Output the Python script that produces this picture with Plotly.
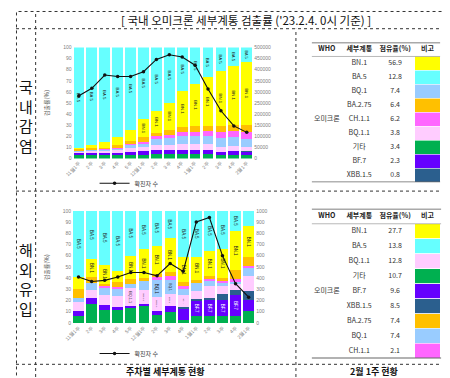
import plotly.graph_objects as go

# ---------------- data ----------------
weeks = ["11월1주", "2주", "3주", "4주", "5주", "12월1주", "2주", "3주", "4주",
         "1월1주", "2주", "3주", "4주", "2월1주"]

series_names = ["기타", "BF.7", "XBB.1.5", "BQ.1.1", "BQ.1", "CH.1.1", "BA.2.75", "BN.1", "BA.5"]
series_colors = {
    "기타": "#00B050", "BF.7": "#6600FF", "XBB.1.5": "#2B5F8E", "BQ.1.1": "#FFCCFF",
    "BQ.1": "#99CCFF", "CH.1.1": "#FF66FF", "BA.2.75": "#FFC000", "BN.1": "#FFFF00",
    "BA.5": "#66FFFF",
}

# domestic (국내감염) detection rate, %
dom_etc   = [3, 3, 3.5, 3, 3.5, 3.5, 4, 4, 4, 4, 4, 3.5, 3.5, 3.4]
dom_bf7   = [2, 2, 1.5, 2, 2.5, 3, 3.5, 3.5, 4, 4, 4, 2.5, 3, 2.3]
dom_xbb   = [0, 0, 0, 0, 0, 0, 0, 0, 0, 0, 0.2, 0.3, 0.5, 0.8]
dom_bq11  = [1, 1.5, 2, 2.5, 4, 4, 4.5, 4.5, 5, 5, 5, 4.5, 4, 3.8]
dom_bq1   = [0.5, 1, 1, 1.5, 2, 3, 5.5, 6.5, 7, 7, 7.5, 8, 8.5, 7.4]
dom_ch11  = [0.5, 0.5, 0.5, 1, 1, 1.5, 2.5, 3, 3.5, 4, 4, 5, 5.5, 6.2]
dom_ba275 = [1.5, 2, 1.5, 2, 3, 4, 3, 4.5, 5, 5.5, 4.5, 5.5, 5.5, 6.4]
dom_bn1   = [1.5, 2, 5, 7.5, 10, 16.5, 20, 24, 32.5, 37.5, 44, 49.7, 53, 56.9]
dom_ba5   = [90, 88, 85, 80.5, 74, 64.5, 57, 50, 39, 33, 26.8, 21, 16.5, 12.8]
dom_cases = [283000, 316000, 376000, 369000, 369000, 391000, 446000, 467000,
             457000, 420000, 313000, 215000, 147000, 118000]

# imported (해외유입) detection rate, %
imp_etc   = [6.5, 17, 12, 11.5, 13, 16, 7, 10, 3, 6, 6, 6, 6, 10.7]
imp_bf7   = [4.5, 5, 4, 2.5, 2, 1, 4, 5, 10, 14.5, 14.5, 14.5, 19, 9.6]
imp_xbb   = [0, 0, 0, 0, 0, 0, 0, 0, 1.5, 0.5, 2, 5, 4.5, 8.5]
imp_bq11  = [8, 7, 9, 10, 16, 12, 12, 11, 10, 7.5, 10.5, 7.5, 5, 12.8]
imp_bq1   = [3, 7, 6, 6.7, 4, 8, 15, 12, 6, 7, 4, 3, 2, 7.4]
imp_ch11  = [0, 0, 2, 1.3, 0, 0, 3, 3.5, 2.5, 0, 2.5, 1, 3, 2.1]
imp_ba275 = [8, 5, 2, 4.5, 4.5, 3, 3, 3.5, 3.5, 3, 2, 3, 7.5, 7.4]
imp_bn1   = [11, 16, 17, 9.5, 20.5, 26, 25, 31, 22, 20.5, 22.5, 26, 35, 27.7]
imp_ba5   = [59, 43, 48, 54, 40, 34, 31, 24, 41.5, 41, 36, 34, 18, 13.8]
imp_cases = [410, 370, 380, 410, 450, 450, 420, 530, 460, 900, 940, 600, 350, 230]

# in-bar labels
dom_ba5_txt = ["BA.5"] * 14
dom_bn1_txt = ["", "", "", "", "", "BN.1", "BN.1", "BN.1", "BN.1", "BN.1", "BN.1", "BN.1", "BN.1", "BN.1"]
imp_ba5_txt = ["BA.5"] * 13 + [""]
imp_bn1_txt = ["", "BN.1", "BN.1", "", "BN.1", "BN.1", "BN.1", "BN.1", "BN.1", "BN.1", "BN.1", "BN.1", "BN.1", "BN.1"]
imp_bq11_txt = ["", "", "", "", "BQ.1.1", "BQ.1.1", "BQ.1.1", "BQ.1.1", "BQ.1.1", "", "", "", "", ""]
imp_bq1_txt = ["", "", "", "", "", "", "BQ.1", "BQ.1", "", "", "", "", "", ""]
imp_bf7_txt = ["", "", "", "", "", "", "", "", "", "BF.7", "BF.7", "BF.7", "BF.7", ""]

# tables
t_header = ["WHO", "세부계통", "점유율(%)", "비고"]
t1_names = ["BN.1", "BA.5", "BQ.1", "BA.2.75", "CH.1.1", "BQ.1.1", "기타", "BF.7", "XBB.1.5"]
t1_vals  = ["56.9", "12.8", "7.4", "6.4", "6.2", "3.8", "3.4", "2.3", "0.8"]
t2_names = ["BN.1", "BA.5", "BQ.1.1", "기타", "BF.7", "XBB.1.5", "BA.2.75", "BQ.1", "CH.1.1"]
t2_vals  = ["27.7", "13.8", "12.8", "10.7", "9.6", "8.5", "7.4", "7.4", "2.1"]
who_label = "오미크론"

# ---------------- figure ----------------
W, H = 450, 378
FONT = "Noto Sans CJK KR"
NARROW = "Liberation Sans Narrow, Noto Sans CJK KR"
GREY = "#808080"

def px_x(v):
    return v / W

def px_y(v):
    return 1 - v / H

fig = go.Figure()
idx = list(range(len(weeks)))

dom = dict(zip(series_names, [dom_etc, dom_bf7, dom_xbb, dom_bq11, dom_bq1, dom_ch11, dom_ba275, dom_bn1, dom_ba5]))
imp = dict(zip(series_names, [imp_etc, imp_bf7, imp_xbb, imp_bq11, imp_bq1, imp_ch11, imp_ba275, imp_bn1, imp_ba5]))
dom_txt = {"BA.5": dom_ba5_txt, "BN.1": dom_bn1_txt}
imp_txt = {"BA.5": imp_ba5_txt, "BN.1": imp_bn1_txt, "BQ.1.1": imp_bq11_txt, "BQ.1": imp_bq1_txt, "BF.7": imp_bf7_txt}

for data, txt, xa, ya in [(dom, dom_txt, "x", "y"), (imp, imp_txt, "x2", "y3")]:
    for name in series_names:
        fig.add_trace(go.Bar(
            x=idx, y=data[name], name=name, xaxis=xa, yaxis=ya,
            marker=dict(color=series_colors[name], line=dict(width=0)),
            text=txt.get(name), textposition="inside", insidetextanchor="middle",
            textangle=90,
            textfont=dict(size=5.5, family="Liberation Sans, Arial",
                          color="white" if name == "BF.7" else "#222"),
            showlegend=False, hoverinfo="skip",
        ))

fig.add_trace(go.Scatter(
    x=idx, y=dom_cases, xaxis="x", yaxis="y2", mode="lines+markers", name="확진자 수",
    line=dict(color="#111", width=1.1), marker=dict(symbol="circle", size=3.5, color="#111"),
    legend="legend", cliponaxis=False,
))
fig.add_trace(go.Scatter(
    x=idx, y=imp_cases, xaxis="x2", yaxis="y4", mode="lines+markers", name="확진자 수",
    line=dict(color="#111", width=1.1), marker=dict(symbol="circle", size=3.5, color="#111"),
    legend="legend2", cliponaxis=False,
))

# tables
tcols = [15.5, 48.5, 85, 118]
for names, vals, xa, ya in [(t1_names, t1_vals, "x3", "y5"), (t2_names, t2_vals, "x4", "y6")]:
    rows = list(range(len(names)))
    fig.add_trace(go.Bar(
        y=rows, x=[26] * len(rows), base=[105] * len(rows), orientation="h", width=1,
        marker=dict(color=[series_colors[n] for n in names], line=dict(color="white", width=0.6)),
        xaxis=xa, yaxis=ya, showlegend=False, hoverinfo="skip",
    ))
    fig.add_trace(go.Scatter(
        x=tcols, y=[-1] * 4, text=t_header, mode="text", xaxis=xa, yaxis=ya,
        textfont=dict(size=7, family=NARROW, color="#222"), showlegend=False, hoverinfo="skip",
        texttemplate="<b>%{text}</b>",
    ))
    fig.add_trace(go.Scatter(
        x=[tcols[1]] * len(rows), y=rows, text=names, mode="text", xaxis=xa, yaxis=ya,
        textfont=dict(size=7, family=NARROW, color="#333"), showlegend=False, hoverinfo="skip",
    ))
    fig.add_trace(go.Scatter(
        x=[tcols[2]] * len(rows), y=rows, text=vals, mode="text", xaxis=xa, yaxis=ya,
        textfont=dict(size=7, family=NARROW, color="#333"), showlegend=False, hoverinfo="skip",
    ))
    fig.add_trace(go.Scatter(
        x=[tcols[0]], y=[(len(rows) - 1) / 2], text=[who_label], mode="text", xaxis=xa, yaxis=ya,
        textfont=dict(size=7, family=FONT, color="#333"), showlegend=False, hoverinfo="skip",
    ))

tick_font = dict(size=5, color=GREY, family="Liberation Sans, Arial")
common_y = dict(showgrid=False, zeroline=False, showline=False, ticks="", tickfont=tick_font, fixedrange=True)
common_x = dict(showgrid=False, zeroline=False, showline=False, ticks="", tickfont=tick_font,
                tickangle=-45, tickmode="array", tickvals=idx, ticktext=weeks,
                range=[-0.5, len(weeks) - 0.5], fixedrange=True)

fig.update_layout(
    width=W, height=H, margin=dict(l=0, r=0, t=0, b=0),
    paper_bgcolor="white", plot_bgcolor="white",
    font=dict(family=FONT, color="#222"),
    barmode="stack", bargap=0.17,
    uniformtext=dict(minsize=5, mode="show"),
    xaxis=dict(domain=[px_x(57.5), px_x(241.5)], anchor="y", **common_x),
    yaxis=dict(domain=[px_y(150), px_y(37)], range=[0, 100], dtick=10, anchor="x", **common_y),
    yaxis2=dict(overlaying="y", side="right", anchor="x", range=[0, 500000], dtick=50000,
                tickformat="d", **common_y),
    xaxis2=dict(domain=[px_x(57), px_x(243.5)], anchor="y3", **common_x),
    yaxis3=dict(domain=[px_y(317), px_y(203)], range=[0, 100], dtick=10, anchor="x2", **common_y),
    yaxis4=dict(overlaying="y3", side="right", anchor="x2", range=[0, 1000], dtick=100, **common_y),
    xaxis3=dict(domain=[px_x(301), px_x(432)], range=[0, 131], anchor="y5", visible=False, fixedrange=True),
    yaxis5=dict(domain=[px_y(174), px_y(32)], range=[8.5, -1.5], anchor="x3", visible=False, fixedrange=True),
    xaxis4=dict(domain=[px_x(301), px_x(433)], range=[0, 132], anchor="y6", visible=False, fixedrange=True),
    yaxis6=dict(domain=[px_y(353), px_y(201)], range=[8.5, -1.5], anchor="x4", visible=False, fixedrange=True),
    legend=dict(x=px_x(80), y=px_y(175), xanchor="left", yanchor="middle", orientation="h",
                font=dict(size=6, color="#333"), bgcolor="rgba(0,0,0,0)", itemwidth=30),
    legend2=dict(x=px_x(80), y=px_y(348), xanchor="left", yanchor="middle", orientation="h",
                 font=dict(size=6, color="#333"), bgcolor="rgba(0,0,0,0)", itemwidth=30),
)

shapes = []
dot = dict(color="#333", width=1, dash="dot")
# outer frame and grid of the layout table
shapes.append(dict(type="rect", xref="paper", yref="paper", x0=px_x(0.5), x1=px_x(449.5),
                   y0=px_y(377.5), y1=px_y(0.5), line=dot))
shapes.append(dict(type="line", xref="paper", yref="paper", x0=px_x(20), x1=px_x(20), y0=0, y1=1, line=dot))
shapes.append(dict(type="line", xref="paper", yref="paper", x0=px_x(285), x1=px_x(285),
                   y0=0, y1=px_y(18), line=dot))
for yy in [18, 183, 359]:
    shapes.append(dict(type="line", xref="paper", yref="paper", x0=0, x1=1,
                       y0=px_y(yy), y1=px_y(yy), line=dot))
# table rules
for xa, ya, xr in [("x3", "y5", 131), ("x4", "y6", 132)]:
    shapes.append(dict(type="line", xref=xa, yref=ya, x0=0, x1=xr, y0=-1.5, y1=-1.5,
                       line=dict(color="#555", width=1.6)))
    shapes.append(dict(type="line", xref=xa, yref=ya, x0=0, x1=xr, y0=-0.5, y1=-0.5,
                       line=dict(color="#999", width=0.7)))
    shapes.append(dict(type="line", xref=xa, yref=ya, x0=0, x1=xr, y0=8.5, y1=8.5,
                       line=dict(color="#666", width=1.6)))
fig.update_layout(shapes=shapes)

def note(text, x, y, size, color="#111", angle=0):
    return dict(text=text, x=px_x(x), y=px_y(y), xref="paper", yref="paper", showarrow=False,
                xanchor="center", yanchor="middle", textangle=angle, borderpad=0,
                font=dict(size=size, color=color))

ann = [
    note("[ 국내 오미크론 세부계통 검출률 ('23.2.4. 0시 기준) ]", 234, 9.5, 11.5),
    note("국<br>내<br>감<br>염", 10.5, 107, 15),
    note("해<br>외<br>유<br>입", 10.5, 272, 15),
    note("<b>주차별 세부계통 현황</b>", 152, 366.5, 9),
    note("<b>2월 1주 현황</b>", 365, 366.5, 9),
    note("검출률(%)", 31, 93, 6, "#555", -90),
    note("검출률(%)", 31, 260, 6, "#555", -90),
]
fig.update_layout(annotations=ann)

fig.write_html("out.html")
